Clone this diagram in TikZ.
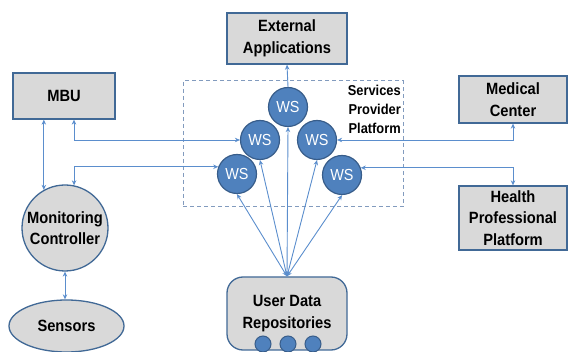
\documentclass[tikz,border=0pt]{standalone}
\usepackage{fontspec}
\setmainfont{Liberation Sans}[FakeStretch=0.9]
\usetikzlibrary{shapes.geometric,arrows.meta}
\definecolor{lineblue}{RGB}{91,142,205}
\definecolor{wsfill}{RGB}{79,129,189}
\definecolor{wsedge}{RGB}{56,93,138}
\definecolor{boxfill}{RGB}{217,217,217}
\definecolor{boxedge}{RGB}{65,105,150}
\definecolor{dashblue}{RGB}{130,155,190}
\begin{document}
\begin{tikzpicture}[x=1pt,y=-1pt,
  box/.style={draw=boxedge, fill=boxfill, line width=1.3pt, align=center, inner sep=0pt,
    font=\fontsize{16.3}{21.5}\selectfont\bfseries},
  ws/.style={circle, draw=wsedge, fill=wsfill, line width=1.2pt, minimum size=39pt,
    inner sep=0pt, text=white, font=\fontsize{16}{16}\selectfont},
  dbdot/.style={circle, draw=wsedge, fill=wsfill, line width=1pt, minimum size=16pt, inner sep=0pt},
  link/.style={draw=lineblue, line width=0.9pt},
  tip/.tip={Stealth[length=5pt,width=4.5pt]},
  both/.style={link, tip-tip},
  one/.style={link, -tip},
]
\useasboundingbox (0,0) rectangle (568,352);

% services provider platform frame
\node[draw=dashblue, dashed, line width=1pt, dash pattern=on 4pt off 3pt,
      minimum width=220pt, minimum height=126pt, inner sep=0pt] (spp) at (293,144) {};
\node[anchor=north east, align=right, inner sep=0pt,
      font=\fontsize{14.3}{19}\selectfont\bfseries] (spplabel) at (401,85)
      {Services\\Provider\\Platform};

% boxes
\node[box, minimum width=120pt, minimum height=51pt] (ext) at (287,38.5) {External\\Applications};
\node[box, minimum width=102pt, minimum height=46pt] (mbu) at (64,96) {MBU};
\node[box, minimum width=108pt, minimum height=47pt] (med) at (513,99.5) {Medical\\Center};
\node[box, minimum width=108pt, minimum height=64pt] (hpp) at (513,218) {Health\\Professional\\Platform};

% monitoring side
\node[box, circle, minimum size=86pt] (mc) at (65,228) {Monitoring\\Controller};
\node[box, ellipse, minimum width=115pt, minimum height=52pt] (sen) at (66.5,326) {Sensors};

% user data repositories
\node[box, rounded corners=16pt, minimum width=120pt, minimum height=73pt,
      font=\fontsize{16.3}{22}\selectfont\bfseries] (udr) at (287,313.5) {User Data\\Repositories};
\node[dbdot] (db1) at (263,344) {};
\node[dbdot] (db2) at (288,344) {};
\node[dbdot] (db3) at (313,344) {};

% web services
\node[ws] (ws1) at (288,107) {WS};
\node[ws] (ws2) at (260,140) {WS};
\node[ws] (ws3) at (317,140) {WS};
\node[ws] (ws4) at (237,174) {WS};
\node[ws] (ws5) at (342,175) {WS};

% connectors
\draw[one] (ws1.north) -- (ext.south);
\draw[both] (mc.119) -- (mc.119 |- mbu.south);
\draw[both] ([xshift=10pt]mbu.south) |- (ws2.west);
\draw[both] (mc.78) |- (ws4.159);
\draw[both] (ws3.east) -| (med.south);
\draw[both] (ws5.21) -| (hpp.north);
\draw[both] (mc.south) -- (mc.south |- sen.north);
\foreach \w in {ws1,ws2,ws3,ws4,ws5}
  \draw[both] (udr.north) -- (\w.south);
\end{tikzpicture}
\end{document}
